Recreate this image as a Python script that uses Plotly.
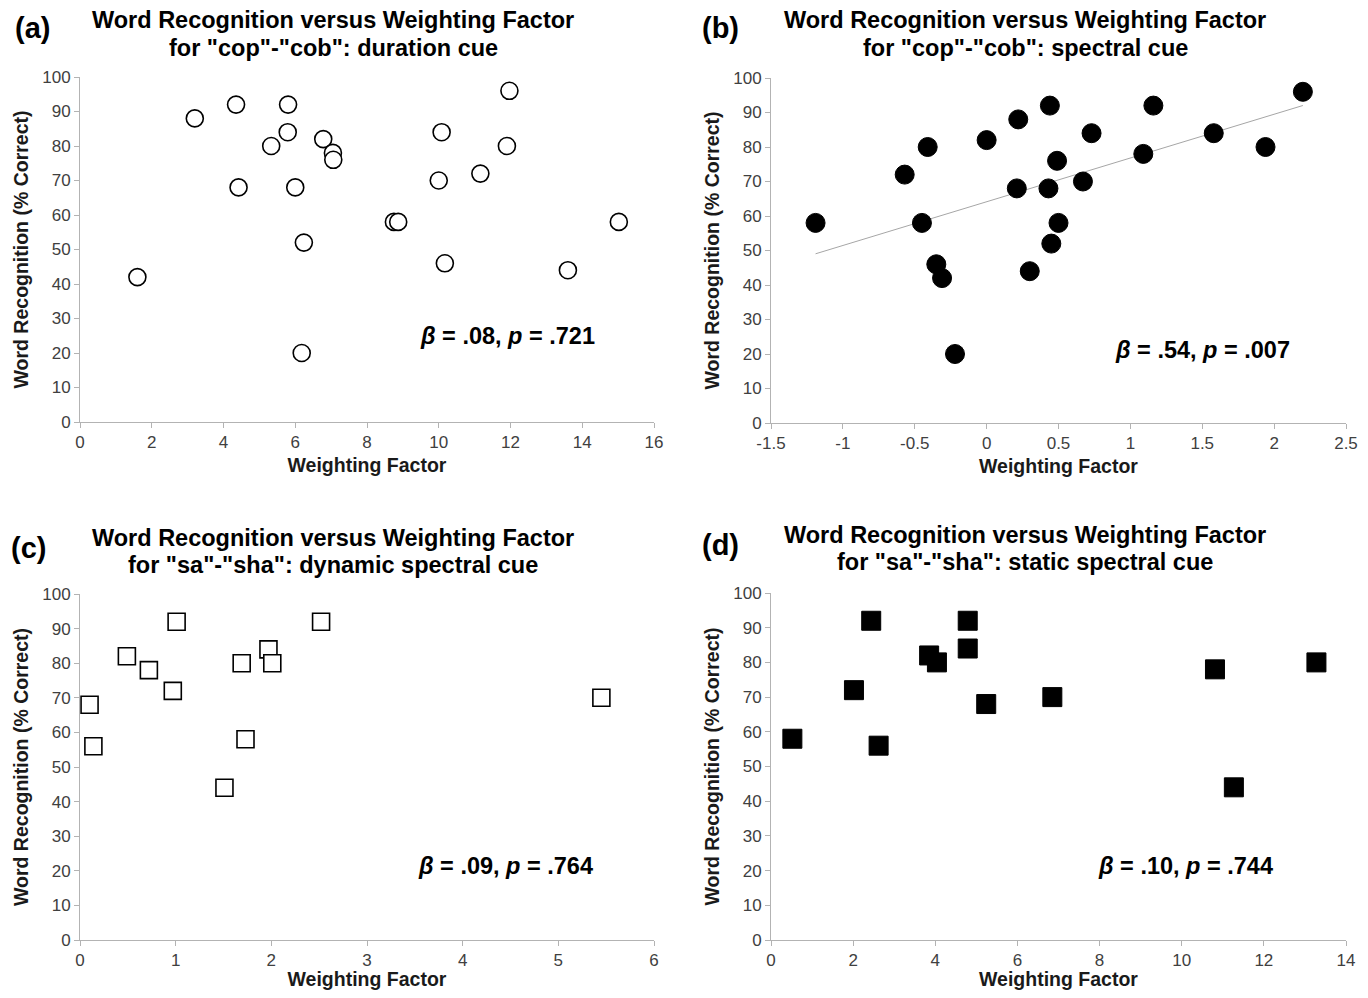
import numpy as np
import plotly.graph_objects as go

# ---------------- data ----------------
a_x = [1.6, 3.2, 4.35, 4.42, 5.33, 5.8, 5.79, 6.0, 6.24, 6.18, 6.78, 7.05, 7.06,
       8.75, 8.87, 10.0, 10.08, 10.17, 11.16, 11.9, 11.97, 13.6, 15.02]
a_y = [42, 88, 92, 68, 80, 92, 84, 68, 52, 20, 82, 78, 76,
       58, 58, 70, 84, 46, 72, 80, 96, 44, 58]

b_x = [-1.19, -0.57, -0.41, -0.45, -0.35, -0.31, -0.22, 0.0, 0.22, 0.21, 0.30, 0.44,
       0.43, 0.45, 0.49, 0.50, 0.67, 0.73, 1.09, 1.16, 1.58, 1.94, 2.2]
b_y = [58, 72, 80, 58, 46, 42, 20, 82, 88, 68, 44, 92,
       68, 52, 76, 58, 70, 84, 78, 92, 84, 80, 96]

c_x = [0.1, 0.14, 0.49, 0.72, 0.97, 1.01, 1.51, 1.69, 1.73, 1.97, 2.01, 2.52, 5.45]
c_y = [68, 56, 82, 78, 72, 92, 44, 80, 58, 84, 80, 92, 70]

d_x = [0.52, 2.02, 2.44, 2.62, 3.85, 4.04, 4.79, 4.79, 5.24, 6.85, 10.81, 11.27, 13.28]
d_y = [58, 72, 92, 56, 82, 80, 92, 84, 68, 70, 78, 44, 80]

title_line1 = "Word Recognition versus Weighting Factor"
title_line2 = [
    'for "cop"-"cob": duration cue',
    'for "cop"-"cob": spectral cue',
    'for "sa"-"sha": dynamic spectral cue',
    'for "sa"-"sha": static spectral cue',
]
panel_labels = ["(a)", "(b)", "(c)", "(d)"]
stats = [("β", ".08", "p", ".721"), ("β", ".54", "p", ".007"),
         ("β", ".09", "p", ".764"), ("β", ".10", "p", ".744")]

x_tickvals = [
    [0, 2, 4, 6, 8, 10, 12, 14, 16],
    [-1.5, -1, -0.5, 0, 0.5, 1, 1.5, 2, 2.5],
    [0, 1, 2, 3, 4, 5, 6],
    [0, 2, 4, 6, 8, 10, 12, 14],
]
x_ticktext = [
    ["0", "2", "4", "6", "8", "10", "12", "14", "16"],
    ["-1.5", "-1", "-0.5", "0", "0.5", "1", "1.5", "2", "2.5"],
    ["0", "1", "2", "3", "4", "5", "6"],
    ["0", "2", "4", "6", "8", "10", "12", "14"],
]
y_tickvals = [0, 10, 20, 30, 40, 50, 60, 70, 80, 90, 100]

# ---------------- layout geometry ----------------
# The page body has an 8px margin, so the figure is sized to fit inside it
# and all target pixel positions are shifted by that offset.
PAGE_W, PAGE_H = 1368, 998
OFF = 8
W, H = PAGE_W - 2 * OFF, PAGE_H - 2 * OFF
FONT = "Liberation Sans, Arial, sans-serif"

def px_x(p):
    return (p - OFF) / W

def px_y(p):
    return 1 - (p - OFF) / H

# plot areas in page pixels (left, right, top, bottom)
areas = [(80, 654, 77, 422), (771, 1346, 78, 423),
         (80, 654, 594, 940), (771, 1346, 593, 940)]
title_pos = [(333, 20, 48), (1025, 20, 48), (333, 538, 565), (1025, 535, 562)]
label_pos = [(32, 28), (720, 28), (28, 548), (720, 545)]
stat_pos = [(507, 336), (1202, 350), (505, 866), (1185, 866)]

fig = go.Figure()

# trendline for panel (b) via least squares (drawn first, below markers)
slope, intercept = np.polyfit(b_x, b_y, 1)
tx = [min(b_x), max(b_x)]
ty = [slope * v + intercept for v in tx]
fig.add_trace(go.Scatter(x=tx, y=ty, mode="lines", line=dict(color="#a6a6a6", width=1),
                         xaxis="x2", yaxis="y2", showlegend=False, hoverinfo="skip"))

series = [(a_x, a_y), (b_x, b_y), (c_x, c_y), (d_x, d_y)]
marker_styles = [
    dict(symbol="circle", size=17, color="white", line=dict(color="black", width=1.6)),
    dict(symbol="circle", size=19, color="black", line=dict(color="black", width=1)),
    dict(symbol="square", size=17, color="white", line=dict(color="black", width=1.6)),
    dict(symbol="square", size=19, color="black", line=dict(color="black", width=1)),
]

axis_common = dict(
    showgrid=False, zeroline=False, showline=True, linecolor="#b3b3b3", linewidth=1,
    ticks="outside", ticklen=5, tickcolor="#b3b3b3", tickwidth=1, automargin=False,
    tickfont=dict(family=FONT, size=17, color="#404040"),
)

for i, ((xs, ys), ms) in enumerate(zip(series, marker_styles)):
    n = i + 1
    xa = "x" if n == 1 else f"x{n}"
    ya = "y" if n == 1 else f"y{n}"
    fig.add_trace(go.Scatter(x=xs, y=ys, mode="markers", marker=ms,
                             xaxis=xa, yaxis=ya, showlegend=False))
    l, r, t, b = areas[i]
    xkey = "xaxis" if n == 1 else f"xaxis{n}"
    ykey = "yaxis" if n == 1 else f"yaxis{n}"
    xv = x_tickvals[i]
    fig.update_layout({
        xkey: dict(domain=[px_x(l), px_x(r)], range=[xv[0], xv[-1]],
                   tickmode="array", tickvals=xv, ticktext=x_ticktext[i], anchor=ya,
                   title=dict(text="<b>Weighting Factor</b>", standoff=6,
                              font=dict(family=FONT, size=19.5, color="#1a1a1a")),
                   **axis_common),
        ykey: dict(domain=[px_y(b), px_y(t)], range=[0, 100],
                   tickmode="array", tickvals=y_tickvals, anchor=xa,
                   title=dict(text="<b>Word Recognition (% Correct)</b>", standoff=8,
                              font=dict(family=FONT, size=19.5, color="#1a1a1a")),
                   **axis_common),
    })

annotations = []
for i in range(4):
    cx, y1, y2 = title_pos[i]
    for txt, yy in ((title_line1, y1), (title_line2[i], y2)):
        annotations.append(dict(text=f"<b>{txt}</b>", x=px_x(cx), y=px_y(yy),
                                xref="paper", yref="paper", showarrow=False,
                                xanchor="center", yanchor="middle",
                                font=dict(family=FONT, size=23.5, color="black")))
    lx, ly = label_pos[i]
    annotations.append(dict(text=f"<b>{panel_labels[i]}</b>", x=px_x(lx), y=px_y(ly),
                            xref="paper", yref="paper", showarrow=False,
                            xanchor="center", yanchor="middle",
                            font=dict(family=FONT, size=29, color="black")))
    s = stats[i]
    sx, sy = stat_pos[i]
    annotations.append(dict(text=f"<b><i>{s[0]}</i> = {s[1]}, <i>{s[2]}</i> = {s[3]}</b>",
                            x=px_x(sx), y=px_y(sy), xref="paper", yref="paper",
                            showarrow=False, xanchor="center", yanchor="middle",
                            font=dict(family=FONT, size=23.5, color="black")))

fig.update_layout(width=W, height=H, margin=dict(l=0, r=0, t=0, b=0, autoexpand=False),
                  paper_bgcolor="white", plot_bgcolor="white",
                  annotations=annotations, font=dict(family=FONT))

fig.write_html("out.html")
